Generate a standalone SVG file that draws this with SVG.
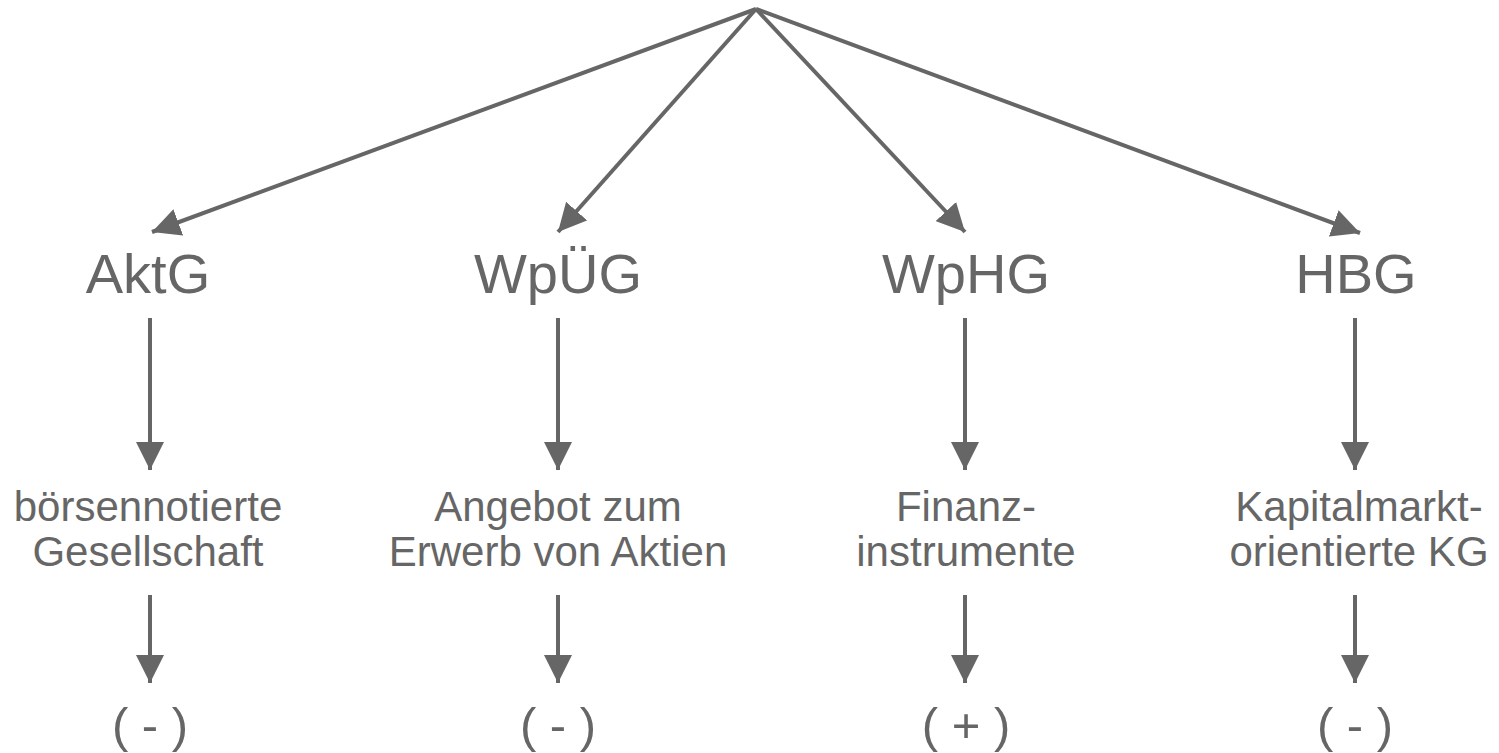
<svg xmlns="http://www.w3.org/2000/svg" width="1499" height="753" viewBox="0 0 1499 753">
  <style>
    .t { font-family: "Liberation Sans", Arial, sans-serif; fill: #666666; text-anchor: middle; }
    .law { font-size: 56px; }
    .lbl { font-size: 42px; }
    .sign { font-size: 49px; }
    .c { stroke: #666666; stroke-width: 4; fill: none; }
  </style>
  <defs>
    <marker id="ah" markerUnits="userSpaceOnUse" viewBox="0 0 28 28" refX="28" refY="14" markerWidth="28" markerHeight="28" orient="auto">
      <path d="M0,0 L28,14 L0,28 Z" fill="#666666"/>
    </marker>
  </defs>
  <rect width="1499" height="753" fill="#ffffff"/>

  <g id="connectors">
    <!-- fan-out from the common apex -->
    <line class="c" x1="756" y1="9" x2="152" y2="232" marker-end="url(#ah)"/>
    <line class="c" x1="756" y1="9" x2="558" y2="232" marker-end="url(#ah)"/>
    <line class="c" x1="756" y1="9" x2="965" y2="232" marker-end="url(#ah)"/>
    <line class="c" x1="756" y1="9" x2="1360" y2="233" marker-end="url(#ah)"/>

    <!-- law to subject -->
    <line class="c" x1="150" y1="318" x2="150" y2="470" marker-end="url(#ah)"/>
    <line class="c" x1="558" y1="318" x2="558" y2="470" marker-end="url(#ah)"/>
    <line class="c" x1="965" y1="318" x2="965" y2="470" marker-end="url(#ah)"/>
    <line class="c" x1="1355" y1="318" x2="1355" y2="470" marker-end="url(#ah)"/>

    <!-- subject to verdict -->
    <line class="c" x1="150" y1="595" x2="150" y2="683" marker-end="url(#ah)"/>
    <line class="c" x1="558" y1="595" x2="558" y2="683" marker-end="url(#ah)"/>
    <line class="c" x1="965" y1="595" x2="965" y2="683" marker-end="url(#ah)"/>
    <line class="c" x1="1355" y1="595" x2="1355" y2="683" marker-end="url(#ah)"/>
  </g>

  <g id="aktg">
    <text class="t law" x="148" y="293">AktG</text>
    <text class="t lbl" x="148" y="521">börsennotierte</text>
    <text class="t lbl" x="148" y="566">Gesellschaft</text>
    <text class="t sign" x="150" y="742">( - )</text>
  </g>
  <g id="wpueg">
    <text class="t law" x="558" y="293">WpÜG</text>
    <text class="t lbl" x="558" y="521">Angebot zum</text>
    <text class="t lbl" x="558" y="566">Erwerb von Aktien</text>
    <text class="t sign" x="558" y="742">( - )</text>
  </g>
  <g id="wphg">
    <text class="t law" x="966" y="293">WpHG</text>
    <text class="t lbl" x="966" y="521">Finanz-</text>
    <text class="t lbl" x="966" y="566">instrumente</text>
    <text class="t sign" x="966" y="742">( + )</text>
  </g>
  <g id="hbg">
    <text class="t law" x="1356" y="293">HBG</text>
    <text class="t lbl" x="1359" y="521">Kapitalmarkt-</text>
    <text class="t lbl" x="1359" y="566">orientierte KG</text>
    <text class="t sign" x="1355" y="742">( - )</text>
  </g>
</svg>
